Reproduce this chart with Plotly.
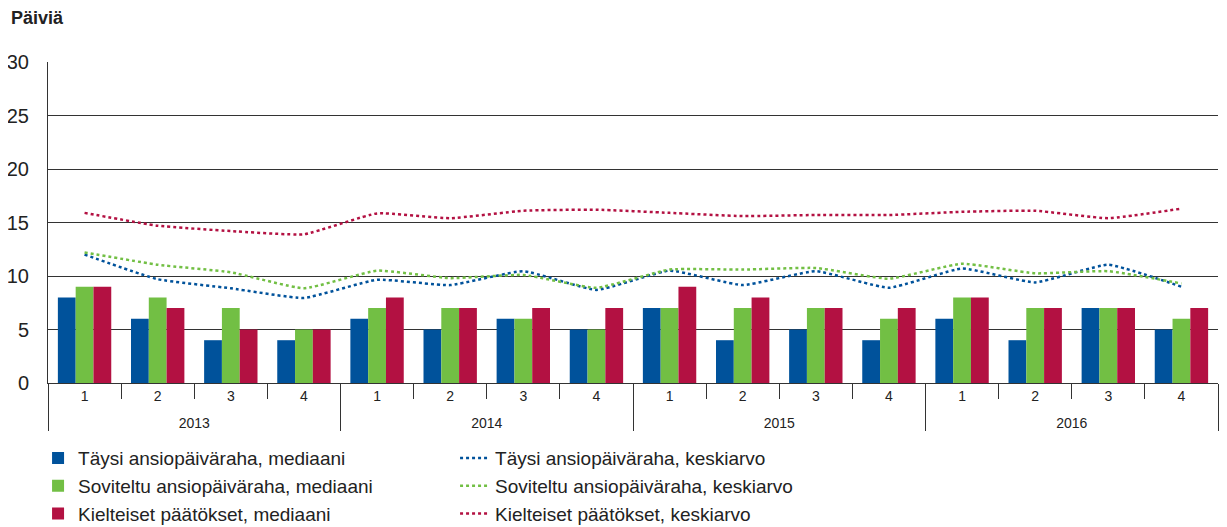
import plotly.graph_objects as go

years = ["2013"] * 4 + ["2014"] * 4 + ["2015"] * 4 + ["2016"] * 4
quarters = ["1", "2", "3", "4"] * 4

taysi_median = [8, 6, 4, 4, 6, 5, 6, 5, 7, 4, 5, 4, 6, 4, 7, 5]
soviteltu_median = [9, 8, 7, 5, 7, 7, 6, 5, 7, 7, 7, 6, 8, 7, 7, 6]
kielteiset_median = [9, 7, 5, 5, 8, 7, 7, 7, 9, 8, 7, 7, 8, 7, 7, 7]

taysi_mean = [12.0, 9.7, 8.85, 7.95, 9.65, 9.15, 10.45, 8.7, 10.5, 9.15, 10.45, 8.9, 10.7, 9.4, 11.05, 9.0]
soviteltu_mean = [12.2, 11.05, 10.35, 8.85, 10.5, 9.8, 10.1, 8.9, 10.6, 10.6, 10.75, 9.75, 11.15, 10.25, 10.45, 9.3]
kielteiset_mean = [15.9, 14.7, 14.2, 13.9, 15.85, 15.4, 16.1, 16.2, 15.9, 15.6, 15.7, 15.7, 16.0, 16.1, 15.4, 16.3]

BLUE = "#00529b"
GREEN = "#72bf44"
RED = "#b31142"

# year labels shifted a little lower, as in the reference
x = [["<span style='baseline-shift:-9px'>" + y + "</span>" for y in years], quarters]

fig = go.Figure()
series = [
    ("Täysi ansiopäiväraha, mediaani", taysi_median, "Täysi ansiopäiväraha, keskiarvo", taysi_mean, BLUE),
    ("Soviteltu ansiopäiväraha, mediaani", soviteltu_median, "Soviteltu ansiopäiväraha, keskiarvo", soviteltu_mean, GREEN),
    ("Kielteiset päätökset, mediaani", kielteiset_median, "Kielteiset päätökset, keskiarvo", kielteiset_mean, RED),
]
for bname, bvals, lname, lvals, col in series:
    fig.add_trace(go.Bar(x=x, y=bvals, name=bname, marker=dict(color=col, line=dict(width=0))))
for bname, bvals, lname, lvals, col in series:
    fig.add_trace(go.Scatter(x=x, y=lvals, name=lname, mode="lines",
                             line=dict(color=col, width=2.5, dash="dot", shape="spline", smoothing=0.4)))

# legend ordering: interleave bar and line rows
order = [0, 3, 1, 4, 2, 5]
for rank, idx in enumerate(order):
    fig.data[idx].legendrank = rank + 1

fig.update_layout(
    width=1219, height=519,
    margin=dict(l=40, r=9, t=54, b=144, autoexpand=False),
    plot_bgcolor="white", paper_bgcolor="white",
    barmode="group", bargap=0.27, bargroupgap=0,
    font=dict(family="Liberation Sans, Arial", color="#222"),
    showlegend=True,
    legend=dict(orientation="h", x=-0.0085, xanchor="left", y=-0.175, yanchor="top",
                entrywidth=372, entrywidthmode="pixels", traceorder="normal",
                font=dict(size=19, color="#222"), itemwidth=30),
    annotations=[dict(text="<b>Päiviä</b>", xref="paper", yref="paper", x=-0.033, y=1.137,
                      xanchor="left", yanchor="middle", showarrow=False,
                      font=dict(family="Liberation Sans, Arial", size=18, color="#222"))],
)
fig.update_yaxes(range=[0, 30], dtick=5, showgrid=True, gridcolor="#333", gridwidth=1,
                 showline=True, linecolor="#333", linewidth=1, zeroline=False, automargin=False,
                 tickfont=dict(size=20, color="#222"), ticks="", ticklabelstandoff=14, fixedrange=True)
fig.update_xaxes(type="multicategory", showline=True, linecolor="#333", linewidth=1, automargin=False,
                 ticks="outside", ticklen=15, tickcolor="#333",
                 showdividers=True, dividercolor="#333", dividerwidth=1,
                 tickfont=dict(size=14, color="#222"), showgrid=False)

fig.write_html("out.html")
